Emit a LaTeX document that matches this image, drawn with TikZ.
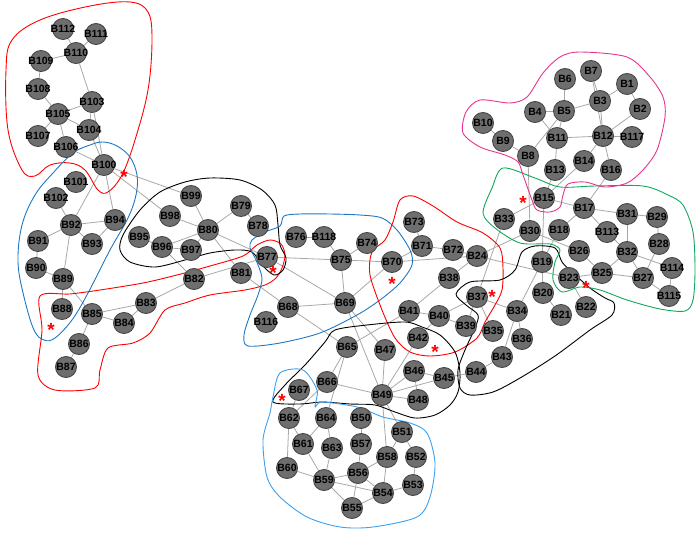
\documentclass[tikz,border=0pt]{standalone}
\usepackage{fontspec}
\setmainfont{Liberation Sans}
\usetikzlibrary{backgrounds}
\definecolor{busfill}{HTML}{6E6E6E}
\definecolor{busline}{HTML}{474747}
\definecolor{wire}{HTML}{A8A8A8}
\definecolor{zoneblue}{HTML}{1F77C4}
\definecolor{zonesky}{HTML}{3AA0F0}
\definecolor{zonegreen}{HTML}{12A85A}
\definecolor{zonepink}{HTML}{E8348C}
\tikzset{
  bus/.style={circle, draw=busline, fill=busfill, line width=0.9pt,
    minimum size=21pt, inner sep=0pt,
    font=\bfseries\fontsize{10.5}{11}\selectfont},
  hub/.style={text=red, inner sep=0pt, yshift=-4.5pt,
    font=\bfseries\fontsize{19}{19}\selectfont},
  zone/.style={line width=0.9pt}
}
\begin{document}
\begin{tikzpicture}[x=1pt, y=-1pt]
      \useasboundingbox (0,0) rectangle (700,537);
      % zones
      \draw[zone, red] plot[smooth cycle, tension=0.6] coordinates {
        (12,40) (40,20) (90,6) (130,2) (148,12) (152,40) (148,90) (135,140)
        (122,175) (108,192) (98,190) (85,170) (70,163) (50,165) (35,176)
        (22,170) (8,130) (6,70)};
      \draw[zone, zoneblue] plot[smooth cycle, tension=0.6] coordinates {
        (53,173) (73,153) (90,145) (103,142) (117,146) (130,157) (137,175)
        (136,195) (128,218) (110,250) (88,293) (72,320) (55,338) (44,340)
        (34,330) (24,297) (18,262) (22,225) (35,195)};
      \draw[zone, red] plot[smooth cycle, tension=0.5] coordinates {
        (40,296) (70,294) (100,290) (143,283) (177,275) (210,266) (243,256)
        (257,245) (270,240) (281,244) (285,255) (282,268) (276,278) (265,285)
        (245,290) (210,295) (185,303) (165,310) (150,333) (133,343) (108,348)
        (100,370) (95,388) (55,390) (38,375) (42,330)};
      \draw[zone, black] plot[smooth cycle, tension=0.5] coordinates {
        (123,235) (140,210) (160,192) (185,182) (210,178) (240,180) (262,190)
        (275,205) (278,225) (280,245) (286,258) (283,270) (274,275) (262,265)
        (252,252) (235,250) (210,253) (185,260) (155,267) (130,262) (120,250)};
      \draw[zone, zoneblue] plot[smooth cycle, tension=0.5] coordinates {
        (252,240) (265,232) (280,226) (284,216) (300,214) (330,214) (360,215)
        (382,218) (397,230) (410,250) (412,265) (400,283) (380,300) (357,315)
        (320,333) (280,343) (248,346) (244,335) (250,315) (258,295) (262,278)
        (256,260) (250,248)};
      \draw[zone, red] plot[smooth cycle, tension=0.5] coordinates {
        (372,252) (385,240) (393,222) (400,200) (413,196) (433,206) (457,222)
        (483,233) (500,248) (503,268) (502,290) (495,305) (485,322) (477,338)
        (455,352) (430,356) (410,352) (395,338) (382,310) (370,275)};
      \draw[zone, black] plot[smooth cycle, tension=0.5] coordinates {
        (273,402) (285,385) (305,365) (325,342) (335,330) (367,325) (405,322)
        (422,327) (440,335) (455,352) (460,373) (458,392) (450,405) (435,415)
        (415,418) (395,412) (375,405) (350,404) (322,402) (300,404)};
      \draw[zone, black] plot[smooth cycle, tension=0.5] coordinates {
        (456,294) (470,282) (500,280) (515,270) (522,252) (535,246) (555,248)
        (562,262) (572,272) (590,288) (605,298) (614,303) (612,315) (590,330)
        (555,356) (520,378) (493,392) (470,395) (460,388) (458,370) (465,350)
        (475,328) (478,315) (466,305)};
      \draw[zone, zonegreen] plot[smooth cycle, tension=0.5] coordinates {
        (503,168) (535,178) (560,187) (595,186) (643,186) (668,195) (683,205)
        (693,232) (695,270) (693,300) (685,311) (660,309) (627,300) (600,290)
        (580,287) (562,292) (553,280) (555,262) (560,250) (550,244) (520,243)
        (495,228) (483,213) (492,188)};
      \draw[zone, zonepink] plot[smooth cycle, tension=0.5] coordinates {
        (463,133) (466,112) (480,100) (510,103) (527,97) (543,73) (560,57)
        (580,52) (627,57) (650,77) (663,97) (665,117) (657,150) (643,170)
        (627,183) (605,187) (585,182) (568,184) (563,195) (560,207) (550,212)
        (537,210) (532,200) (523,175) (518,162) (505,155) (480,147)};
      \draw[zone, zonesky] plot[smooth cycle, tension=0.5] coordinates {
        (280,373) (303,370) (317,390) (315,407) (322,402) (357,407) (383,417)
        (410,423) (427,433) (435,463) (430,497) (417,517) (373,527) (340,527)
        (307,517) (280,497) (267,477) (263,440) (270,413) (273,397)};
      % buses
      \path[nodes=bus]
        (627,84) node (B1){\makebox[0pt]{B1}}
        (640,109) node (B2){\makebox[0pt]{B2}}
        (600,101) node (B3){\makebox[0pt]{B3}}
        (535,112) node (B4){\makebox[0pt]{B4}}
        (564,111) node (B5){\makebox[0pt]{B5}}
        (565,79) node (B6){\makebox[0pt]{B6}}
        (591,71) node (B7){\makebox[0pt]{B7}}
        (528,156) node (B8){\makebox[0pt]{B8}}
        (503,141) node (B9){\makebox[0pt]{B9}}
        (483,123) node (B10){\makebox[0pt]{B10}}
        (557,138) node (B11){\makebox[0pt]{B11}}
        (603,136) node (B12){\makebox[0pt]{B12}}
        (555,170) node (B13){\makebox[0pt]{B13}}
        (584,161) node (B14){\makebox[0pt]{B14}}
        (544,198) node (B15){\makebox[0pt]{B15}}
        (611,170) node (B16){\makebox[0pt]{B16}}
        (584,208) node (B17){\makebox[0pt]{B17}}
        (559,230) node (B18){\makebox[0pt]{B18}}
        (542,262) node (B19){\makebox[0pt]{B19}}
        (543,293) node (B20){\makebox[0pt]{B20}}
        (561,315) node (B21){\makebox[0pt]{B21}}
        (586,307) node (B22){\makebox[0pt]{B22}}
        (569,278) node (B23){\makebox[0pt]{B23}}
        (477,256) node (B24){\makebox[0pt]{B24}}
        (602,273) node (B25){\makebox[0pt]{B25}}
        (579,251) node (B26){\makebox[0pt]{B26}}
        (643,278) node (B27){\makebox[0pt]{B27}}
        (659,244) node (B28){\makebox[0pt]{B28}}
        (657,217) node (B29){\makebox[0pt]{B29}}
        (530,231) node (B30){\makebox[0pt]{B30}}
        (627,214) node (B31){\makebox[0pt]{B31}}
        (627,252) node (B32){\makebox[0pt]{B32}}
        (504,219) node (B33){\makebox[0pt]{B33}}
        (517,311) node (B34){\makebox[0pt]{B34}}
        (493,331) node (B35){\makebox[0pt]{B35}}
        (522,339) node (B36){\makebox[0pt]{B36}}
        (477,297) node (B37){\makebox[0pt]{B37}}
        (449,278) node (B38){\makebox[0pt]{B38}}
        (466,326) node (B39){\makebox[0pt]{B39}}
        (439,316) node (B40){\makebox[0pt]{B40}}
        (409,311) node (B41){\makebox[0pt]{B41}}
        (418,338) node (B42){\makebox[0pt]{B42}}
        (502,357) node (B43){\makebox[0pt]{B43}}
        (476,372) node (B44){\makebox[0pt]{B44}}
        (444,378) node (B45){\makebox[0pt]{B45}}
        (414,371) node (B46){\makebox[0pt]{B46}}
        (385,350) node (B47){\makebox[0pt]{B47}}
        (418,400) node (B48){\makebox[0pt]{B48}}
        (382,395) node (B49){\makebox[0pt]{B49}}
        (361,418) node (B50){\makebox[0pt]{B50}}
        (402,432) node (B51){\makebox[0pt]{B51}}
        (416,457) node (B52){\makebox[0pt]{B52}}
        (413,485) node (B53){\makebox[0pt]{B53}}
        (383,493) node (B54){\makebox[0pt]{B54}}
        (352,508) node (B55){\makebox[0pt]{B55}}
        (358,473) node (B56){\makebox[0pt]{B56}}
        (361,444) node (B57){\makebox[0pt]{B57}}
        (387,457) node (B58){\makebox[0pt]{B58}}
        (324,480) node (B59){\makebox[0pt]{B59}}
        (287,468) node (B60){\makebox[0pt]{B60}}
        (303,444) node (B61){\makebox[0pt]{B61}}
        (289,418) node (B62){\makebox[0pt]{B62}}
        (332,448) node (B63){\makebox[0pt]{B63}}
        (326,418) node (B64){\makebox[0pt]{B64}}
        (347,347) node (B65){\makebox[0pt]{B65}}
        (327,382) node (B66){\makebox[0pt]{B66}}
        (299,390) node (B67){\makebox[0pt]{B67}}
        (288,307) node (B68){\makebox[0pt]{B68}}
        (345,303) node (B69){\makebox[0pt]{B69}}
        (392,262) node (B70){\makebox[0pt]{B70}}
        (422,246) node (B71){\makebox[0pt]{B71}}
        (453,250) node (B72){\makebox[0pt]{B72}}
        (414,222) node (B73){\makebox[0pt]{B73}}
        (367,243) node (B74){\makebox[0pt]{B74}}
        (341,260) node (B75){\makebox[0pt]{B75}}
        (296,237) node (B76){\makebox[0pt]{B76}}
        (267,257) node (B77){\makebox[0pt]{B77}}
        (258,226) node (B78){\makebox[0pt]{B78}}
        (241,206) node (B79){\makebox[0pt]{B79}}
        (208,230) node (B80){\makebox[0pt]{B80}}
        (241,273) node (B81){\makebox[0pt]{B81}}
        (194,279) node (B82){\makebox[0pt]{B82}}
        (146,303) node (B83){\makebox[0pt]{B83}}
        (124,323) node (B84){\makebox[0pt]{B84}}
        (92,314) node (B85){\makebox[0pt]{B85}}
        (79,344) node (B86){\makebox[0pt]{B86}}
        (66,367) node (B87){\makebox[0pt]{B87}}
        (62,309) node (B88){\makebox[0pt]{B88}}
        (63,279) node (B89){\makebox[0pt]{B89}}
        (36,268) node (B90){\makebox[0pt]{B90}}
        (38,241) node (B91){\makebox[0pt]{B91}}
        (71,225) node (B92){\makebox[0pt]{B92}}
        (92,244) node (B93){\makebox[0pt]{B93}}
        (115,220) node (B94){\makebox[0pt]{B94}}
        (139,237) node (B95){\makebox[0pt]{B95}}
        (162,247) node (B96){\makebox[0pt]{B96}}
        (191,250) node (B97){\makebox[0pt]{B97}}
        (170,216) node (B98){\makebox[0pt]{B98}}
        (191,196) node (B99){\makebox[0pt]{B99}}
        (104,165) node (B100){\makebox[0pt]{B100}}
        (76,182) node (B101){\makebox[0pt]{B101}}
        (56,198) node (B102){\makebox[0pt]{B102}}
        (92,102) node (B103){\makebox[0pt]{B103}}
        (89,130) node (B104){\makebox[0pt]{B104}}
        (58,114) node (B105){\makebox[0pt]{B105}}
        (66,147) node (B106){\makebox[0pt]{B106}}
        (38,136) node (B107){\makebox[0pt]{B107}}
        (38,89) node (B108){\makebox[0pt]{B108}}
        (41,61) node (B109){\makebox[0pt]{B109}}
        (76,53) node (B110){\makebox[0pt]{B110}}
        (96,34) node (B111){\makebox[0pt]{B111}}
        (63,29) node (B112){\makebox[0pt]{B112}}
        (607,232) node (B113){\makebox[0pt]{B113}}
        (672,268) node (B114){\makebox[0pt]{B114}}
        (669,296) node (B115){\makebox[0pt]{B115}}
        (266,322) node (B116){\makebox[0pt]{B116}}
        (632,137) node (B117){\makebox[0pt]{B117}}
        (324,237) node (B118){\makebox[0pt]{B118}};
      % marked buses
      \path[nodes=hub]
        (124,172) node (m100){*}
        (51,325) node (m88){*}
        (273,268) node (m77){*}
        (392,279) node (m70){*}
        (435,347) node (m42){*}
        (492,292) node (m37){*}
        (523,198) node (m15){*}
        (586,283) node (m23){*}
        (282,396) node (m67){*};
      % lines
      \begin{scope}[on background layer={color=wire, line width=0.8pt}]
        \draw (B1) to (B3);
        \draw (B1) to (B2);
        \draw (B2) to (B12);
        \draw (B3) to (B5);
        \draw (B3) to (B7);
        \draw (B3) to (B12);
        \draw (B7) to (B12);
        \draw (B4) to (B5);
        \draw (B4) to (B11);
        \draw (B5) to (B6);
        \draw (B5) to (B8);
        \draw (B5) to (B11);
        \draw (B8) to (B9);
        \draw (B8) to (B30);
        \draw (B9) to (B10);
        \draw (B11) to (B12);
        \draw (B11) to (B13);
        \draw (B12) to (B14);
        \draw (B12) to (B16);
        \draw (B12) to (B117);
        \draw (B13) to (B15);
        \draw (B14) to (B15);
        \draw (B15) to (B17);
        \draw (B15) to (B19);
        \draw (B15) to (B33);
        \draw (B16) to (B17);
        \draw (B17) to (B18);
        \draw (B17) to (B31);
        \draw (B17) to (B113);
        \draw (B18) to (B19);
        \draw (B19) to (B20);
        \draw (B19) to (B34);
        \draw (B20) to (B21);
        \draw (B22) to (B23);
        \draw (B23) to (B24);
        \draw (B23) to (B25);
        \draw (B24) to (B30);
        \draw (B24) to (B38);
        \draw (B24) to (B70);
        \draw (B24) to (B72);
        \draw (B25) to (B26);
        \draw (B25) to (B27);
        \draw (B25) to (B32);
        \draw (B26) to (B30);
        \draw (B27) to (B28);
        \draw (B27) to (B32);
        \draw (B27) to (B115);
        \draw (B28) to (B29);
        \draw (B29) to (B31);
        \draw (B31) to (B32);
        \draw (B32) to (B113);
        \draw (B32) to (B114);
        \draw (B114) to (B115);
        \draw (B33) to (B37);
        \draw (B34) to (B36);
        \draw (B34) to (B37);
        \draw (B34) to (B43);
        \draw (B35) to (B37);
        \draw (B37) to (B39);
        \draw (B37) to (B40);
        \draw (B38) to (B41);
        \draw (B39) to (B40);
        \draw (B40) to (B41);
        \draw (B40) to (B42);
        \draw (B41) to (B65);
        \draw (B42) to (B49);
        \draw (B43) to (B44);
        \draw (B44) to (B45);
        \draw (B45) to (B46);
        \draw (B45) to (B49);
        \draw (B46) to (B48);
        \draw (B46) to (B49);
        \draw (B47) to (B49);
        \draw (B48) to (B49);
        \draw (B49) to (B51);
        \draw (B49) to (B58);
        \draw (B49) to (B66);
        \draw (B50) to (B57);
        \draw (B51) to (B52);
        \draw (B51) to (B58);
        \draw (B52) to (B53);
        \draw (B53) to (B54);
        \draw (B54) to (B55);
        \draw (B54) to (B56);
        \draw (B54) to (B58);
        \draw (B54) to (B59);
        \draw (B55) to (B56);
        \draw (B55) to (B59);
        \draw (B56) to (B57);
        \draw (B56) to (B58);
        \draw (B56) to (B59);
        \draw (B59) to (B60);
        \draw (B59) to (B61);
        \draw (B59) to (B63);
        \draw (B60) to (B62);
        \draw (B61) to (B62);
        \draw (B61) to (B64);
        \draw (B62) to (B66);
        \draw (B62) to (B67);
        \draw (B63) to (B64);
        \draw (B64) to (B65);
        \draw (B65) to (B66);
        \draw (B65) to (B68);
        \draw (B68) to (B69);
        \draw (B68) to (B81);
        \draw (B69) to (B47);
        \draw (B69) to (B49);
        \draw (B69) to (B70);
        \draw (B69) to (B75);
        \draw (B69) to (B77);
        \draw (B70) to (B71);
        \draw (B70) to (B75);
        \draw (B71) to (B72);
        \draw (B71) to (B73);
        \draw (B74) to (B75);
        \draw (B75) to (B77);
        \draw (B75) to (B118);
        \draw (B76) to (B118);
        \draw (B77) to (B80);
        \draw (B77) to (B82);
        \draw (B78) to (B79);
        \draw (B79) to (B80);
        \draw (B80) to (B81);
        \draw (B80) to (B96);
        \draw (B80) to (B97);
        \draw (B80) to (B98);
        \draw (B80) to (B99);
        \draw (B82) to (B83);
        \draw (B82) to (B96);
        \draw (B83) to (B84);
        \draw (B83) to (B85);
        \draw (B84) to (B85);
        \draw (B85) to (B86);
        \draw (B85) to (B89);
        \draw (B86) to (B87);
        \draw (B88) to (B89);
        \draw (B89) to (B90);
        \draw (B89) to (B92);
        \draw (B90) to (B91);
        \draw (B91) to (B92);
        \draw (B92) to (B93);
        \draw (B92) to (B94);
        \draw (B92) to (B100);
        \draw (B92) to (B102);
        \draw (B93) to (B94);
        \draw (B94) to (B100);
        \draw (B95) to (B96);
        \draw (B96) to (B97);
        \draw (B98) to (B100);
        \draw (B99) to (B100);
        \draw (B100) to (B103);
        \draw (B100) to (B104);
        \draw (B100) to (B106);
        \draw (B103) to (B104);
        \draw (B103) to (B105);
        \draw (B103) to (B110);
        \draw (B104) to (B105);
        \draw (B105) to (B106);
        \draw (B105) to (B107);
        \draw (B105) to (B108);
        \draw (B108) to (B109);
        \draw (B109) to (B110);
        \draw (B110) to (B111);
        \draw (B110) to (B112);
      \end{scope}
\end{tikzpicture}
\end{document}
